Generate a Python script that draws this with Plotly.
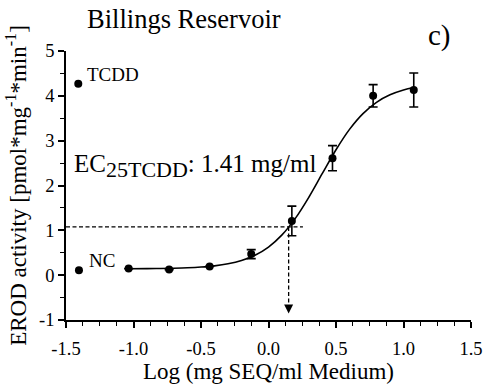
import math
import plotly.graph_objects as go

# Sample dilution series (log mg SEQ/ml medium) and EROD response
dose_log = [-1.036, -0.736, -0.436, -0.128, 0.173, 0.474, 0.775, 1.076]
erod_mean = [0.146, 0.124, 0.196, 0.47, 1.21, 2.61, 4.00, 4.13]
erod_sd = [0.0, 0.0, 0.0, 0.10, 0.33, 0.28, 0.25, 0.38]

# Controls
ctrl_x = [-1.409, -1.404]
ctrl_y = [4.27, 0.11]
ctrl_labels = ["TCDD", "NC"]

# Fitted dose-response curve
curve_x = [-1.036, -0.9, -0.8, -0.7, -0.6, -0.5, -0.4, -0.3, -0.2, -0.1,
           0.0, 0.1, 0.2, 0.3, 0.4, 0.5, 0.6, 0.7, 0.8, 0.9, 1.0, 1.076]
curve_y = [0.143, 0.145, 0.149, 0.155, 0.164, 0.181, 0.208, 0.253, 0.327, 0.445,
           0.627, 0.898, 1.272, 1.744, 2.274, 2.797, 3.252, 3.604, 3.856, 4.023, 4.131, 4.184]

# EC25 (TCDD) read-out
ec25_mgml = 1.41
ec25_level = 1.076
ec25_line_end = 0.255
arrow_tip = -0.855

x_ticks = [-1.5, -1.0, -0.5, 0.0, 0.5, 1.0, 1.5]
x_ticklabels = ["-1.5", "-1.0", "-0.5", "0.0", "0.5", "1.0", "1.5"]
y_ticks = [-1, 0, 1, 2, 3, 4, 5]
y_ticklabels = ["-1", "0", "1", "2", "3", "4", "5"]

ec25_log = math.log10(ec25_mgml)
FONT = "Liberation Serif, Times New Roman, serif"

fig = go.Figure()

# dashed guide lines
fig.add_trace(go.Scatter(x=[-1.5, ec25_line_end], y=[ec25_level, ec25_level], mode="lines",
                         line=dict(color="black", width=1.3, dash="4px,2.5px"),
                         showlegend=False, hoverinfo="skip", cliponaxis=False))
fig.add_trace(go.Scatter(x=[ec25_log, ec25_log], y=[ec25_level, arrow_tip + 0.2], mode="lines",
                         line=dict(color="black", width=1.3, dash="4px,2.5px"),
                         showlegend=False, hoverinfo="skip"))
fig.add_trace(go.Scatter(x=[ec25_log], y=[arrow_tip], mode="markers",
                         marker=dict(symbol="arrow-down", size=9, color="black",
                                     line=dict(width=0)),
                         showlegend=False, hoverinfo="skip"))

# fitted curve
fig.add_trace(go.Scatter(x=curve_x, y=curve_y, mode="lines",
                         line=dict(color="black", width=1.6, shape="spline"),
                         showlegend=False))

# measured means with SD
fig.add_trace(go.Scatter(x=dose_log, y=erod_mean, mode="markers",
                         marker=dict(size=8, color="black"),
                         error_y=dict(type="data", array=erod_sd, visible=True,
                                      color="black", thickness=1.6, width=4.5),
                         showlegend=False))

# controls
fig.add_trace(go.Scatter(x=ctrl_x, y=ctrl_y, mode="markers",
                         marker=dict(size=8, color="black"),
                         showlegend=False, cliponaxis=False))

annotations = [
    dict(x=-1.363, y=4.48, xref="x", yref="y", text=ctrl_labels[0], showarrow=False,
         xanchor="left", yanchor="middle", font=dict(family=FONT, size=19, color="black")),
    dict(x=-1.346, y=0.337, xref="x", yref="y", text=ctrl_labels[1], showarrow=False,
         xanchor="left", yanchor="middle", font=dict(family=FONT, size=19, color="black")),
    dict(x=-1.459, y=2.44, xref="x", yref="y",
         text="EC<sub><span style='font-size:22px'>25TCDD</span></sub>: %.2f mg/ml" % ec25_mgml,
         showarrow=False, xanchor="left", yanchor="middle",
         font=dict(family=FONT, size=25, color="black")),
    dict(x=0.0457, y=1.1196, xref="paper", yref="paper", text="Billings Reservoir",
         showarrow=False, xanchor="left", yanchor="middle",
         font=dict(family=FONT, size=26.5, color="black")),
    dict(x=0.923, y=1.0576, xref="paper", yref="paper", text="c)",
         showarrow=False, xanchor="center", yanchor="middle",
         font=dict(family=FONT, size=29, color="black")),
]

fig.update_layout(
    width=495, height=391, autosize=False,
    margin=dict(l=66, r=13, t=51, b=64),
    paper_bgcolor="white", plot_bgcolor="white",
    font=dict(family=FONT, color="black"),
    annotations=annotations,
    xaxis=dict(range=[-1.5, 1.5], tickvals=x_ticks, ticktext=x_ticklabels,
               showgrid=False, zeroline=False, showline=True, linecolor="black", linewidth=1.8,
               ticks="outside", ticklen=6, tickwidth=1.6, tickcolor="black",
               ticklabelstandoff=5,
               tickfont=dict(family=FONT, size=18.5, color="black"),
               minor=dict(dtick=0.125, tick0=-1.5, ticks="outside", ticklen=4.5,
                          tickwidth=1.4, tickcolor="black", showgrid=False),
               title=dict(text="Log (mg SEQ/ml Medium)", standoff=4,
                          font=dict(family=FONT, size=23, color="black"))),
    yaxis=dict(range=[-1, 5], tickvals=y_ticks, ticktext=y_ticklabels,
               showgrid=False, zeroline=False, showline=True, linecolor="black", linewidth=1.8,
               ticks="outside", ticklen=6, tickwidth=1.6, tickcolor="black",
               tickfont=dict(family=FONT, size=18.5, color="black"),
               minor=dict(dtick=0.5, tick0=-1, ticks="outside", ticklen=4.5,
                          tickwidth=1.4, tickcolor="black", showgrid=False),
               title=dict(text="EROD activity [pmol*mg<sup>-1</sup>*min<sup>-1</sup>]", standoff=6,
                          font=dict(family=FONT, size=23, color="black"))),
)

fig.write_html("out.html")
